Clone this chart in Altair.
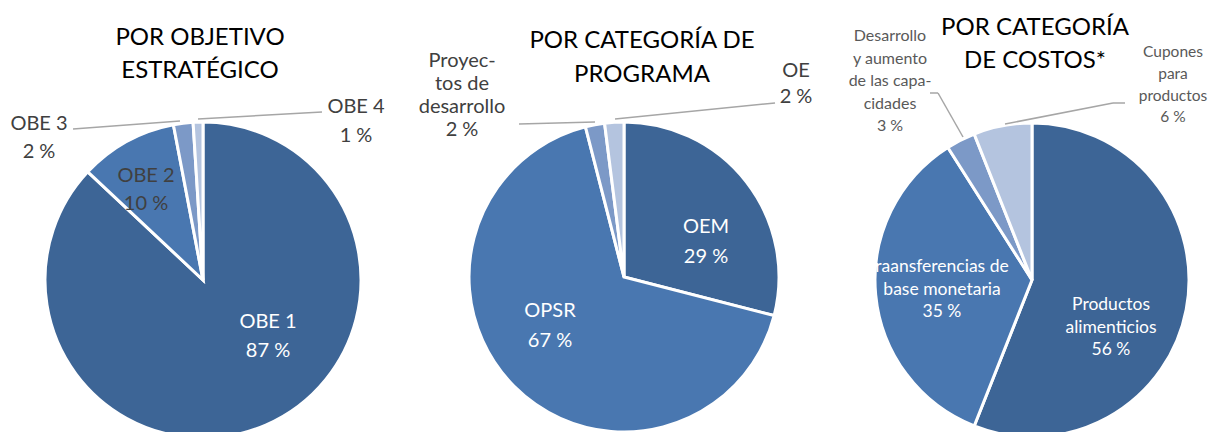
import altair as alt
import pandas as pd

OFF = 8  # page margin: reference pixel -> chart pixel

# ---------------- data ----------------
obj_cats = ["OBE 1", "OBE 2", "OBE 3", "OBE 4"]
obj_vals = [87, 10, 2, 1]

prog_cats = ["OEM", "OPSR", "Proyectos de desarrollo", "OE"]
prog_vals = [29, 67, 2, 2]

cost_cats = ["Productos alimenticios", "Transferencias de base monetaria",
             "Desarrollo y aumento de las capacidades", "Cupones para productos"]
cost_vals = [56, 35, 3, 6]

titles = [["POR OBJETIVO", "ESTRATÉGICO"],
          ["POR CATEGORÍA DE", "PROGRAMA"],
          ["POR CATEGORÍA", "DE COSTOS*"]]

# label text as displayed (line breaks as in the picture)
label_lines = {
    "OBE 1": ["OBE 1"], "OBE 2": ["OBE 2"], "OBE 3": ["OBE 3"], "OBE 4": ["OBE 4"],
    "OEM": ["OEM"], "OPSR": ["OPSR"],
    "Proyectos de desarrollo": ["Proyec-", "tos de", "desarrollo"],
    "OE": ["OE"],
    "Productos alimenticios": ["Productos", "alimenticios"],
    "Transferencias de base monetaria": ["raansferencias de", "base monetaria"],
    "Desarrollo y aumento de las capacidades": ["Desarrollo", "y aumento", "de las capa-", "cidades"],
    "Cupones para productos": ["Cupones", "para", "productos"],
}

COLORS = ["#3D6596", "#4977B0", "#7C99C7", "#B4C4DF"]
GRAY = "#404040"
GRAY2 = "#595959"
LEADER = "#A6A6A6"

# ---------------- layout ----------------
pies = [
    (obj_cats, obj_vals, 203, 280, 158),
    (prog_cats, prog_vals, 624, 277, 155),
    (cost_cats, cost_vals, 1032, 280, 157),
]
title_layout = [(200, 45, 33), (642, 48, 34), (1035, 35, 33)]

# x, first baseline, line height, colour, font size
label_layout = {
    "OBE 1": (268, 328, 29, "white", 20),
    "OBE 2": (146, 182, 28, GRAY, 20),
    "OBE 3": (39, 130, 28, GRAY, 20),
    "OBE 4": (356, 113, 29, GRAY, 20),
    "OEM": (706, 233, 30, "white", 20),
    "OPSR": (550, 317, 30, "white", 20),
    "Proyectos de desarrollo": (462, 67, 23, GRAY, 20),
    "OE": (796, 77, 26, GRAY, 20),
    "Productos alimenticios": (1111, 310, 22.5, "white", 17.5),
    "Transferencias de base monetaria": (942, 272, 22.5, "white", 17.5),
    "Desarrollo y aumento de las capacidades": (890, 41, 22.5, GRAY2, 16),
    "Cupones para productos": (1173, 57, 21.8, GRAY2, 15.5),
}

leaders = [
    (73, 129, 180, 121), (198, 119, 322, 112),
    (519, 124, 595, 122), (615, 119, 775, 103),
    (930, 93, 938, 93), (938, 93, 963, 137),
    (1125, 103, 1113, 103), (1113, 103, 1005, 124),
]

# ---------------- charts ----------------
layers = []
for cats, vals, cx, cy, r in pies:
    df = pd.DataFrame({"cat": cats, "value": vals, "rank": [1, 2, 3, 4]})
    layers.append(
        alt.Chart(df).mark_arc(stroke="white", strokeWidth=3, clip=True).encode(
            theta=alt.Theta("value:Q", stack=True, scale=alt.Scale(domain=[0, 100])),
            order=alt.Order("rank:Q"),
            color=alt.Color("rank:N", scale=alt.Scale(domain=[1, 2, 3, 4], range=COLORS), legend=None),
            x=alt.value(cx - OFF), y=alt.value(cy - OFF), radius=alt.value(r),
        )
    )

rows = []
for cats, vals, *_ in pies:
    for c, v in zip(cats, vals):
        x, y0, lh, col, fs = label_layout[c]
        lines = label_lines[c] + [f"{v} %"]
        for i, t in enumerate(lines):
            rows.append({"x": x - OFF, "y": y0 + i * lh - OFF, "t": t, "col": col, "fs": fs})
lab_df = pd.DataFrame(rows)

trows = []
for (x, y0, lh), lines in zip(title_layout, titles):
    for i, t in enumerate(lines):
        trows.append({"x": x - OFF, "y": y0 + i * lh - OFF, "t": t})
tit_df = pd.DataFrame(trows)

lead_df = pd.DataFrame([{"x": a - OFF, "y": b - OFF, "x2": c - OFF, "y2": d - OFF} for a, b, c, d in leaders])

leader_layer = alt.Chart(lead_df).mark_rule(color=LEADER, strokeWidth=1.5).encode(
    x=alt.X("x:Q", scale=None), y=alt.Y("y:Q", scale=None),
    x2="x2:Q", y2="y2:Q",
)

label_layer = alt.Chart(lab_df).mark_text(font="Lato", align="center", baseline="alphabetic").encode(
    x=alt.X("x:Q", scale=None), y=alt.Y("y:Q", scale=None),
    text="t:N",
    color=alt.Color("col:N", scale=None),
    size=alt.Size("fs:Q", scale=None),
)

title_layer = alt.Chart(tit_df).mark_text(font="Lato", align="center", baseline="alphabetic",
                                          fontSize=24, color="black").encode(
    x=alt.X("x:Q", scale=None), y=alt.Y("y:Q", scale=None), text="t:N",
)

chart = alt.layer(*layers, leader_layer, label_layer, title_layer).properties(
    width=1201, height=424, padding=0,
    autosize=alt.AutoSizeParams(type="none"),
).configure_view(stroke=None)

chart.save("out.html", embed_options={"renderer": "svg", "actions": False})
